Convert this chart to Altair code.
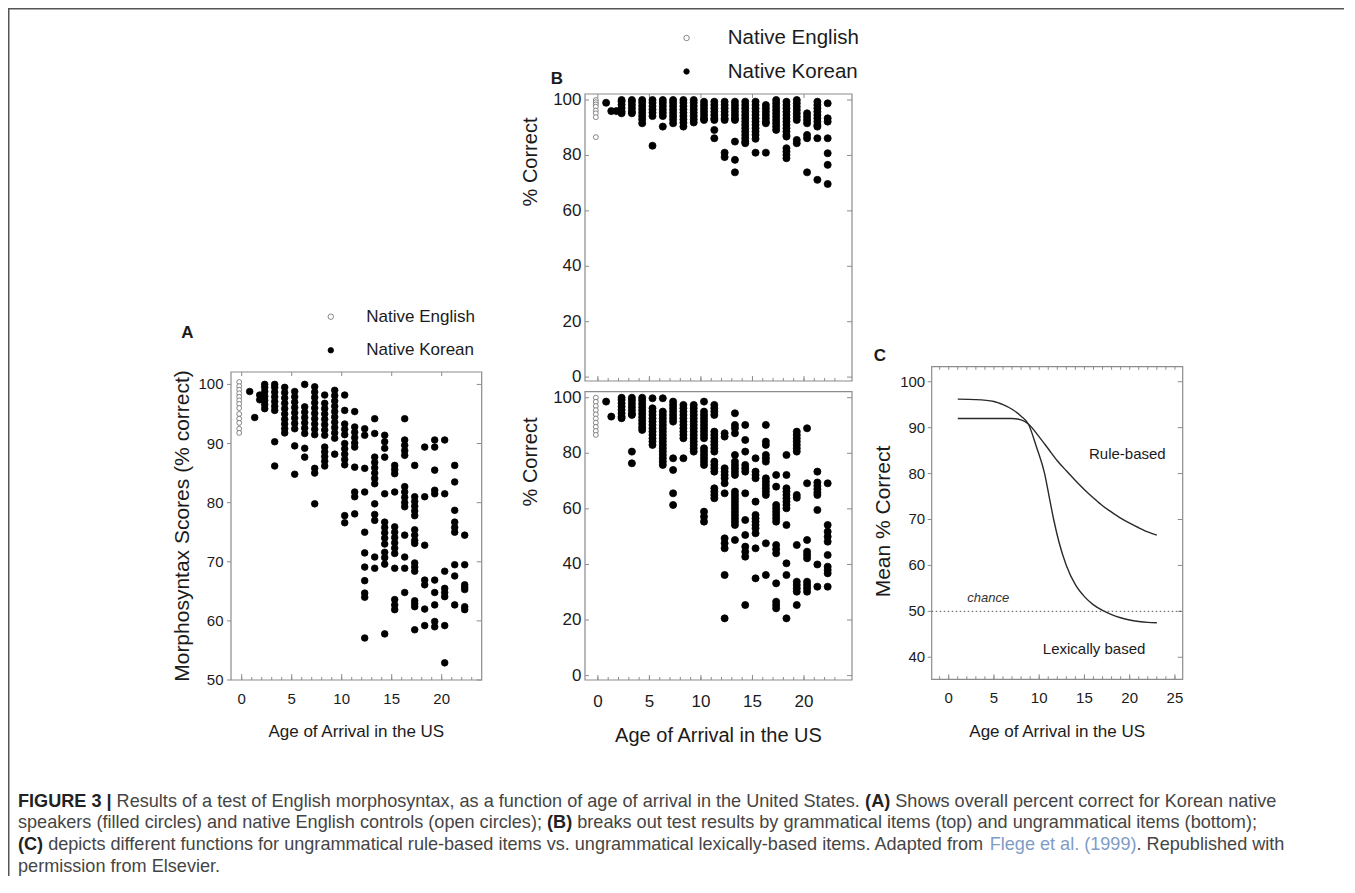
import altair as alt
import pandas as pd

FONT = "Liberation Sans"
INK = "#1b1b1b"
GREY = "#8c8c8c"
W, H, M = 1336, 868, 8
GROUPS = ["Native English", "Native Korean"]


def px(v):
    return v - M


# ---------------- Panel A data ----------------
a_eng_age = [-0.25]
a_eng_score = [[100.4, 99.7, 99.1, 98.5, 97.9, 97.3, 96.7, 96.0, 95.0, 94.2, 93.5, 92.5, 91.8]]
a_kor_age = [0.8, 1.3, 1.8, 2.3, 3.3, 4.3, 5.3, 6.3, 7.3, 8.3, 9.3, 10.3, 11.3, 12.3,
             13.3, 14.3, 15.3, 16.3, 17.3, 18.3, 19.3, 20.3, 21.3, 22.3]
a_kor_score = [
    [98.8],
    [94.4],
    [98.2, 97.4],
    [100.0, 99.5, 98.8, 98.0, 97.3, 96.6, 95.9],
    [100.0, 99.5, 98.7, 97.9, 97.1, 96.3, 95.6, 90.3, 86.2],
    [99.5, 98.6, 97.7, 96.8, 95.9, 95.0, 94.1, 93.3, 92.5, 91.8],
    [98.8, 97.9, 97.0, 96.1, 95.2, 94.3, 93.4, 92.5, 89.6, 84.8],
    [100.0, 96.2, 95.3, 94.4, 93.5, 92.6, 91.7, 89.2, 87.7],
    [99.6, 98.7, 97.8, 96.9, 96.0, 95.1, 94.2, 93.3, 92.4, 91.5, 85.8, 85.0, 79.8],
    [98.2, 96.8, 95.9, 95.0, 94.1, 93.2, 92.3, 91.4, 89.4, 88.6, 87.8, 87.0, 86.2],
    [99.0, 98.1, 97.2, 96.3, 95.4, 94.5, 93.6, 92.7, 91.8, 90.9, 88.2],
    [98.2, 95.6, 93.3, 92.4, 91.5, 90.0, 89.1, 88.2, 87.3, 86.4, 77.8, 76.6],
    [95.4, 92.8, 91.9, 91.0, 90.1, 89.4, 86.0, 81.8, 81.0, 78.1],
    [92.5, 91.4, 85.8, 81.8, 75.0, 71.5, 69.1, 66.8, 64.7, 64.0, 57.1],
    [94.2, 91.7, 87.7, 86.8, 85.9, 85.0, 84.1, 83.2, 79.8, 78.0, 77.0, 70.8, 68.9],
    [91.4, 90.3, 89.2, 87.7, 81.5, 76.7, 75.8, 74.9, 74.0, 73.0, 71.6, 70.7, 69.6, 57.8],
    [86.3, 85.6, 84.9, 81.8, 75.9, 75.0, 74.1, 73.2, 72.3, 71.4, 68.9, 63.6, 62.7, 61.9],
    [94.2, 90.6, 89.7, 88.8, 88.0, 82.7, 81.8, 80.9, 80.0, 79.3, 74.5, 70.8, 68.9, 64.8],
    [86.3, 81.0, 80.2, 79.4, 78.6, 77.8, 75.4, 74.5, 73.6, 73.1, 69.8, 69.1, 68.4, 63.4,
     62.9, 62.4, 58.5],
    [89.4, 81.0, 72.8, 66.9, 66.1, 62.0, 59.2],
    [90.6, 89.4, 85.5, 82.1, 81.5, 66.9, 64.8, 62.7, 59.9, 59.0],
    [90.6, 81.5, 68.4, 65.5, 64.8, 64.1, 59.2, 52.9],
    [86.3, 83.5, 78.7, 76.7, 75.8, 75.0, 69.5, 67.6, 62.7],
    [74.5, 69.5, 66.1, 65.7, 65.3, 62.4, 61.9],
]

# ---------------- Panel B (top: grammatical) ----------------
bt_eng_age = [-0.2]
bt_eng_score = [[100.0, 99.2, 98.4, 97.6, 96.2, 95.2, 93.8, 86.6]]
bt_kor_age = [0.8, 1.3, 1.8, 2.3, 3.3, 4.3, 5.3, 6.3, 7.3, 8.3, 9.3, 10.3, 11.3, 12.3,
              13.3, 14.3, 15.3, 16.3, 17.3, 18.3, 19.3, 20.3, 21.3, 22.3]
bt_kor_score = [
    [99.0],
    [96.0],
    [96.0],
    [100.0, 99.4, 98.3, 97.1, 95.9, 95.2],
    [100.0, 99.4, 98.2, 97.0, 95.8, 95.2],
    [100.0, 99.0, 97.8, 96.6, 95.4, 94.2, 93.0, 91.6],
    [100.0, 99.0, 97.8, 96.6, 95.4, 94.2, 83.5],
    [100.0, 99.0, 97.8, 96.6, 95.4, 94.2, 90.4],
    [100.0, 99.0, 97.8, 96.6, 95.4, 94.2, 93.0, 91.6],
    [100.0, 99.0, 97.8, 96.6, 95.4, 94.2, 93.0, 91.8, 90.4],
    [100.0, 99.0, 97.8, 96.6, 95.4, 94.2, 93.0, 91.9],
    [99.4, 98.2, 97.0, 95.8, 94.6, 93.4, 92.8],
    [99.4, 98.2, 97.0, 95.8, 94.6, 93.4, 92.8, 89.2, 86.2],
    [99.4, 98.2, 97.0, 95.8, 94.6, 93.4, 92.8, 81.0, 79.4],
    [99.4, 98.2, 97.0, 95.8, 94.6, 93.4, 92.8, 85.0, 78.4, 73.9],
    [99.4, 98.2, 97.0, 95.8, 94.6, 93.4, 92.2, 91.0, 89.8, 88.6, 87.4, 86.2, 85.0, 84.4],
    [99.4, 98.2, 97.0, 95.8, 94.6, 93.4, 92.2, 91.0, 89.8, 88.6, 87.4, 86.0, 81.0],
    [98.2, 97.0, 95.8, 94.6, 93.4, 92.2, 91.6, 81.0],
    [100.0, 98.8, 97.6, 96.4, 95.2, 94.0, 92.8, 91.6, 90.4, 89.2],
    [99.4, 98.2, 97.0, 95.8, 94.6, 93.4, 92.2, 91.0, 89.8, 88.6, 87.4, 86.8, 82.6, 81.4,
     80.2, 79.0],
    [100.0, 98.8, 97.6, 96.4, 95.2, 94.0, 92.8, 85.6, 84.4],
    [95.2, 94.0, 92.8, 91.6, 87.4, 86.2, 73.9],
    [99.4, 98.2, 97.0, 95.8, 94.6, 93.4, 92.2, 91.0, 90.4, 86.2, 71.2],
    [98.8, 93.4, 92.2, 86.2, 80.8, 76.6, 69.7],
]

# ---------------- Panel B (bottom: ungrammatical) ----------------
bb_eng_age = [-0.2]
bb_eng_score = [[100.0, 98.5, 97.0, 95.5, 94.0, 92.5, 91.0, 89.5, 88.0, 86.6]]
bb_kor_age = [0.8, 1.3, 2.3, 3.3, 4.3, 5.3, 6.3, 7.3, 8.3, 9.3, 10.3, 11.3, 12.3, 13.3,
              14.3, 15.3, 16.3, 17.3, 18.3, 19.3, 20.3, 21.3, 22.3]
bb_kor_score = [
    [98.6],
    [93.2],
    [100.0, 99.2, 98.0, 96.8, 95.6, 94.4, 93.2, 92.6],
    [100.0, 99.0, 97.8, 96.6, 95.4, 94.2, 93.8, 80.6, 76.4],
    [100.0, 99.0, 97.8, 96.6, 95.4, 94.2, 93.0, 91.8, 90.6, 89.4, 88.4],
    [99.8, 96.2, 95.0, 93.8, 92.6, 91.4, 90.2, 89.0, 87.8, 86.6, 85.4, 84.2, 83.0],
    [99.8, 95.0, 93.8, 92.6, 91.4, 90.2, 89.0, 87.8, 86.6, 85.4, 84.2, 83.0, 81.8, 80.6,
     79.4, 78.2, 77.0, 75.8],
    [98.6, 97.4, 96.2, 95.0, 93.8, 92.6, 91.4, 78.2, 74.0, 65.6, 61.4],
    [97.4, 96.2, 95.0, 93.8, 92.6, 91.4, 90.2, 89.0, 87.8, 86.6, 85.4, 78.2],
    [97.4, 96.2, 95.0, 93.8, 92.6, 91.4, 90.2, 89.0, 87.8, 86.6, 85.4, 84.2, 83.0, 81.8, 80.6],
    [98.6, 95.0, 93.8, 92.6, 91.4, 90.2, 89.0, 87.8, 86.6, 85.4, 81.8, 80.6, 79.4, 78.2,
     77.0, 75.8, 59.0, 57.2, 55.4],
    [97.4, 96.2, 95.0, 93.8, 87.8, 86.6, 85.4, 84.2, 83.0, 81.8, 80.6, 77.0, 75.8, 74.6,
     73.4, 67.4, 66.2, 65.0, 63.8],
    [87.2, 86.0, 74.6, 73.4, 72.2, 71.0, 69.2, 65.6, 49.4, 47.6, 45.8, 36.2, 20.6],
    [94.4, 90.2, 89.0, 87.2, 79.4, 77.0, 75.8, 74.6, 73.4, 72.2, 66.2, 65.0, 63.8, 62.6,
     61.4, 60.2, 59.0, 57.8, 56.6, 55.4, 54.2, 48.8],
    [90.2, 84.8, 80.6, 75.8, 74.6, 73.4, 65.6, 56.0, 50.6, 46.4, 44.6, 42.8, 25.4],
    [78.2, 73.4, 72.2, 71.0, 62.6, 57.8, 56.6, 55.4, 54.2, 53.0, 51.2, 45.8, 35.0],
    [90.2, 84.2, 83.0, 79.4, 78.2, 77.0, 71.0, 69.8, 68.6, 67.4, 66.2, 65.0, 47.6, 36.2],
    [72.2, 68.0, 61.4, 60.2, 59.0, 57.8, 56.6, 55.4, 47.0, 45.5, 44.0, 33.2, 26.6, 25.4, 24.2],
    [79.4, 72.2, 67.4, 66.2, 65.0, 63.8, 62.6, 61.4, 60.2, 54.2, 40.4, 36.2, 20.6],
    [87.8, 86.6, 85.4, 84.2, 83.0, 81.8, 80.6, 65.0, 64.0, 47.0, 33.8, 32.6, 31.4, 30.2, 25.4],
    [89.0, 69.2, 48.8, 44.6, 43.4, 42.2, 33.8, 32.6, 31.4, 30.2],
    [73.4, 69.5, 68.3, 67.1, 65.9, 65.0, 59.6, 40.0, 32.0],
    [69.2, 54.2, 51.8, 50.0, 48.2, 43.4, 39.2, 38.0, 36.8, 32.0],
]

# ---------------- Panel C (fitted functions) ----------------
c_lex_age = [1, 3, 5, 6, 7, 8, 8.8, 9.7, 10.6, 11.1, 11.6, 12.2, 13.0, 14.0, 15.0, 16.0,
             17.0, 18.0, 19.0, 20.0, 21.0, 22.0, 23.0]
c_lex_score = [96.2, 96.1, 95.7, 95.0, 94.0, 92.5, 90.8, 85.8, 80.0, 75.0, 70.0, 65.0, 60.0,
               55.8, 53.2, 51.4, 50.2, 49.3, 48.6, 48.1, 47.8, 47.6, 47.5]
c_rule_age = [1, 3, 5, 7, 8, 8.8, 10, 11, 12, 13, 14, 15, 16, 17, 18, 19, 20, 21, 22, 23]
c_rule_score = [92.0, 92.0, 92.0, 92.0, 91.7, 90.8, 88.0, 85.4, 82.8, 80.6, 78.5, 76.5, 74.7,
                73.0, 71.6, 70.3, 69.2, 68.2, 67.3, 66.6]
c_chance = 50
c_labels = ["Rule-based", "Lexically based"]
c_label_age = [15.5, 10.4]
c_label_score = [84.3, 41.9]

# tick label values
a_xticks = [0, 5, 10, 15, 20]
a_yticks = [50, 60, 70, 80, 90, 100]
b_xticks = [0, 5, 10, 15, 20]
b_yticks = [0, 20, 40, 60, 80, 100]
c_xticks = [0, 5, 10, 15, 20, 25]
c_yticks = [40, 50, 60, 70, 80, 90, 100]


def long_df(ages, cols, group):
    xs = [a for a, col in zip(ages, cols) for _ in col]
    ys = [s for col in cols for s in col]
    return pd.DataFrame({"age": xs, "score": ys, "g": group})


fill_scale = alt.Scale(domain=GROUPS, range=["#ffffff", "#000000"])
stroke_scale = alt.Scale(domain=GROUPS, range=["#6a6a6a", "#000000"])
ONE = pd.DataFrame({"k": [0]})


def ticks(vals, side, length, xs, ys, xdom, ydom, outward=False):
    df = pd.DataFrame({"v": vals})
    sgn = -1 if outward else 1
    if side in ("bottom", "top"):
        edge = ydom[0] if side == "bottom" else ydom[1]
        off = (-length / 2 if side == "bottom" else length / 2) * sgn
        return alt.Chart(df).mark_tick(orient="vertical", size=length, thickness=1,
                                       color=GREY, opacity=1, yOffset=off).encode(
            x=alt.X("v:Q", scale=xs, axis=None),
            y=alt.YDatum(edge, type="quantitative", scale=ys, axis=None))
    edge = xdom[0] if side == "left" else xdom[1]
    off = (length / 2 if side == "left" else -length / 2) * sgn
    return alt.Chart(df).mark_tick(orient="horizontal", size=length, thickness=1,
                                   color=GREY, opacity=1, xOffset=off).encode(
        x=alt.XDatum(edge, type="quantitative", scale=xs, axis=None),
        y=alt.Y("v:Q", scale=ys, axis=None))


def xlabels(vals, xs, ys, ydom, fs, pad):
    return alt.Chart(pd.DataFrame({"v": vals})).mark_text(
        baseline="top", align="center", font=FONT, fontSize=fs, color=INK, dy=pad).encode(
        x=alt.X("v:Q", scale=xs, axis=None),
        y=alt.YDatum(ydom[0], type="quantitative", scale=ys, axis=None),
        text=alt.Text("v:Q", format="d"))


def ylabels(vals, xs, ys, xdom, fs, pad):
    return alt.Chart(pd.DataFrame({"v": vals})).mark_text(
        baseline="middle", align="right", font=FONT, fontSize=fs, color=INK, dx=-pad).encode(
        x=alt.XDatum(xdom[0], type="quantitative", scale=xs, axis=None),
        y=alt.Y("v:Q", scale=ys, axis=None),
        text=alt.Text("v:Q", format="d"))


def frame(xs, ys, xdom, ydom):
    return alt.Chart(ONE).mark_rect(filled=False, color=GREY, strokeWidth=1.2).encode(
        x=alt.XDatum(xdom[0], type="quantitative", scale=xs, axis=None),
        x2=alt.X2Datum(xdom[1]),
        y=alt.YDatum(ydom[0], type="quantitative", scale=ys, axis=None),
        y2=alt.Y2Datum(ydom[1]))


def points(df, size, xs, ys, legend):
    return alt.Chart(df).mark_circle(size=size, opacity=1, strokeWidth=0.8).encode(
        x=alt.X("age:Q", scale=xs, axis=None),
        y=alt.Y("score:Q", scale=ys, axis=None),
        fill=alt.Fill("g:N", scale=fill_scale, legend=legend),
        stroke=alt.Stroke("g:N", scale=stroke_scale, legend=legend),
    )


def legend(x, y, fs, offset, rowpad):
    return alt.Legend(orient="none", legendX=x, legendY=y, title=None, padding=0,
                      labelFont=FONT, labelFontSize=fs, labelColor=INK, labelOffset=offset,
                      rowPadding=rowpad, symbolType="circle", symbolSize=30,
                      symbolStrokeWidth=0.8, labelLimit=400)


def title_text(txt, x, y, fs, angle=0):
    return alt.Chart(ONE).mark_text(text=txt, font=FONT, fontSize=fs, color=INK, angle=angle,
                                    align="center", baseline="middle").encode(
        x=alt.value(px(x)), y=alt.value(px(y)))


# ---------------- Panel A ----------------
a_xdom, a_ydom = [-1.07, 24.0], [50.0, 102.1]
a_xs = alt.Scale(domain=a_xdom, range=[px(231), px(481.7)], nice=False, zero=False)
a_ys = alt.Scale(domain=a_ydom, range=[px(680), px(372)], nice=False, zero=False)
a_leg = legend(px(325) - 2.7, px(316.7) - 8.5, 17, 27, 15.6)
panel_a = alt.layer(
    frame(a_xs, a_ys, a_xdom, a_ydom),
    ticks(list(range(0, 24)), "bottom", 3, a_xs, a_ys, a_xdom, a_ydom),
    ticks(a_xticks, "bottom", 6, a_xs, a_ys, a_xdom, a_ydom),
    ticks(a_xticks, "top", 4, a_xs, a_ys, a_xdom, a_ydom),
    ticks(a_yticks, "right", 5, a_xs, a_ys, a_xdom, a_ydom),
    ticks(a_yticks, "left", 4, a_xs, a_ys, a_xdom, a_ydom, outward=True),
    xlabels(a_xticks, a_xs, a_ys, a_ydom, 15, 12),
    ylabels(a_yticks, a_xs, a_ys, a_xdom, 15, 7.5),
    points(long_df(a_eng_age, a_eng_score, GROUPS[0]), 24, a_xs, a_ys, a_leg),
    points(long_df(a_kor_age, a_kor_score, GROUPS[1]), 44, a_xs, a_ys, a_leg),
)

# ---------------- Panel B ----------------
b_xdom = [-1.25, 24.66]
b_xs = alt.Scale(domain=b_xdom, range=[px(585), px(852)], nice=False, zero=False)
bt_ydom = [-1.4, 102.17]
bt_ys = alt.Scale(domain=bt_ydom, range=[px(381), px(94)], nice=False, zero=False)
bb_ydom = [-1.58, 102.16]
bb_ys = alt.Scale(domain=bb_ydom, range=[px(680), px(391.7)], nice=False, zero=False)
b_leg = legend(px(679) - 2.7, px(38) - 10.25, 20.5, 31, 12.5)

panel_bt = alt.layer(
    frame(b_xs, bt_ys, b_xdom, bt_ydom),
    ticks(list(range(0, 24)), "bottom", 3, b_xs, bt_ys, b_xdom, bt_ydom),
    ticks(b_xticks, "bottom", 5, b_xs, bt_ys, b_xdom, bt_ydom),
    ticks(b_xticks, "top", 4, b_xs, bt_ys, b_xdom, bt_ydom),
    ticks(b_yticks, "right", 5, b_xs, bt_ys, b_xdom, bt_ydom),
    ticks(b_yticks, "left", 4, b_xs, bt_ys, b_xdom, bt_ydom),
    ylabels(b_yticks, b_xs, bt_ys, b_xdom, 17, 3.5),
    points(long_df(bt_eng_age, bt_eng_score, GROUPS[0]), 24, b_xs, bt_ys, b_leg),
    points(long_df(bt_kor_age, bt_kor_score, GROUPS[1]), 50, b_xs, bt_ys, b_leg),
)
panel_bb = alt.layer(
    frame(b_xs, bb_ys, b_xdom, bb_ydom),
    ticks(list(range(0, 24)), "bottom", 3, b_xs, bb_ys, b_xdom, bb_ydom),
    ticks(b_xticks, "bottom", 5, b_xs, bb_ys, b_xdom, bb_ydom),
    ticks(b_yticks, "right", 5, b_xs, bb_ys, b_xdom, bb_ydom),
    ticks(b_yticks, "left", 4, b_xs, bb_ys, b_xdom, bb_ydom),
    xlabels(b_xticks, b_xs, bb_ys, bb_ydom, 17, 14),
    ylabels(b_yticks, b_xs, bb_ys, b_xdom, 17, 3.5),
    points(long_df(bb_eng_age, bb_eng_score, GROUPS[0]), 24, b_xs, bb_ys, None),
    points(long_df(bb_kor_age, bb_kor_score, GROUPS[1]), 50, b_xs, bb_ys, None),
)

# ---------------- Panel C ----------------
c_xdom, c_ydom = [-1.88, 25.86], [35.2, 103.27]
c_xs = alt.Scale(domain=c_xdom, range=[px(931.7), px(1182.7)], nice=False, zero=False)
c_ys = alt.Scale(domain=c_ydom, range=[px(679.3), px(366.7)], nice=False, zero=False)
curves = pd.concat([
    pd.DataFrame({"age": c_lex_age, "score": c_lex_score, "curve": "Lexically based"}),
    pd.DataFrame({"age": c_rule_age, "score": c_rule_score, "curve": "Rule-based"}),
])
c_lab = pd.DataFrame({"age": c_label_age, "score": c_label_score, "label": c_labels})
panel_c = alt.layer(
    frame(c_xs, c_ys, c_xdom, c_ydom),
    ticks(list(range(-1, 26)), "bottom", 3, c_xs, c_ys, c_xdom, c_ydom),
    ticks(c_xticks, "bottom", 5, c_xs, c_ys, c_xdom, c_ydom),
    ticks(list(range(-1, 26)), "top", 3, c_xs, c_ys, c_xdom, c_ydom),
    ticks(c_yticks, "right", 5, c_xs, c_ys, c_xdom, c_ydom),
    ticks(c_yticks, "left", 4, c_xs, c_ys, c_xdom, c_ydom, outward=True),
    xlabels(c_xticks, c_xs, c_ys, c_ydom, 15, 12),
    ylabels(c_yticks, c_xs, c_ys, c_xdom, 15, 6.5),
    alt.Chart(ONE).mark_rule(color="#555555", strokeWidth=1, strokeDash=[1.5, 2.5]).encode(
        x=alt.XDatum(c_xdom[0], type="quantitative", scale=c_xs, axis=None),
        x2=alt.X2Datum(c_xdom[1]),
        y=alt.YDatum(c_chance, type="quantitative", scale=c_ys, axis=None)),
    alt.Chart(curves).mark_line(color="#2a2a2a", strokeWidth=1.4, interpolate="monotone").encode(
        x=alt.X("age:Q", scale=c_xs, axis=None),
        y=alt.Y("score:Q", scale=c_ys, axis=None),
        detail="curve:N"),
    alt.Chart(c_lab).mark_text(align="left", baseline="middle", font=FONT, fontSize=15,
                               color=INK).encode(
        x=alt.X("age:Q", scale=c_xs, axis=None),
        y=alt.Y("score:Q", scale=c_ys, axis=None),
        text="label:N"),
    alt.Chart(pd.DataFrame({"age": [2.06], "score": [52.8], "label": ["chance"]})).mark_text(
        align="left", baseline="middle", font=FONT, fontSize=13, fontStyle="italic",
        color="#333333").encode(
        x=alt.X("age:Q", scale=c_xs, axis=None),
        y=alt.Y("score:Q", scale=c_ys, axis=None),
        text="label:N"),
)

# ---------------- caption (text layout) ----------------
_REG = dict(zip(" !\"#$%&'()*+,-./:;?", [278, 278, 355, 556, 556, 889, 667, 191, 333, 333, 389,
                                          584, 278, 333, 278, 278, 278, 278, 556]))
_REG.update({d: 556 for d in "0123456789"})
_REG.update(dict(zip("ABCDEFGHIJKLMNOPQRSTUVWXYZ",
                     [667, 667, 722, 722, 667, 611, 778, 722, 278, 500, 667, 556, 833, 722, 778,
                      667, 778, 722, 667, 611, 722, 667, 944, 667, 667, 611])))
_REG.update(dict(zip("abcdefghijklmnopqrstuvwxyz",
                     [556, 556, 500, 556, 556, 278, 556, 556, 222, 222, 500, 222, 833, 556, 556,
                      556, 556, 333, 500, 278, 556, 500, 722, 500, 500, 500])))
_REG["|"] = 260
_BOLD = dict(_REG)
_BOLD.update({"A": 722, "B": 722, "C": 722, "|": 280})

CAP_FS = 18.1
cap_lines = [
    [("FIGURE 3 |", "b"),
     (" Results of a test of English morphosyntax, as a function of age of arrival in the "
      "United States. ", "n"), ("(A)", "b"),
     (" Shows overall percent correct for Korean native", "n")],
    [("speakers (filled circles) and native English controls (open circles); ", "n"),
     ("(B)", "b"),
     (" breaks out test results by grammatical items (top) and ungrammatical items (bottom);",
      "n")],
    [("(C)", "b"),
     (" depicts different functions for ungrammatical rule-based items vs. ungrammatical "
      "lexically-based items. Adapted from ", "n"), ("Flege et al. (1999)", "l"),
     (". Republished with", "n")],
    [("permission from Elsevier.", "n")],
]
cap_y = [801.7, 823.3, 845.0, 866.7]
cap_left = 18


def tw(s, style):
    table = _BOLD if style == "b" else _REG
    return sum(table.get(c, 556) for c in s) * CAP_FS / 1000.0


rows = []
for line, yy in zip(cap_lines, cap_y):
    x = cap_left
    for seg, style in line:
        lead = len(seg) - len(seg.lstrip(" "))
        rows.append({"t": seg.strip(" "), "x": px(x + tw(" " * lead, style)), "y": px(yy),
                     "s": style})
        x += tw(seg, style)
cap_df = pd.DataFrame(rows)


def cap_layer(style, color, weight):
    return alt.Chart(cap_df).transform_filter(alt.datum.s == style).mark_text(
        align="left", baseline="middle", font=FONT, fontSize=CAP_FS, color=color,
        fontWeight=weight).encode(
        x=alt.X("x:Q", scale=None, axis=None),
        y=alt.Y("y:Q", scale=None, axis=None),
        text="t:N")


def label(txt, x, y):
    return alt.Chart(ONE).mark_text(text=txt, font=FONT, fontSize=17, fontWeight="bold",
                                    color=INK, align="center", baseline="middle").encode(
        x=alt.value(px(x)), y=alt.value(px(y)))


decor = alt.layer(
    alt.Chart(ONE).mark_rule(color="#555555", strokeWidth=1.5).encode(
        x=alt.value(0.75), y=alt.value(0), y2=alt.value(H)),
    alt.Chart(ONE).mark_rule(color="#555555", strokeWidth=1.5).encode(
        x=alt.value(0), x2=alt.value(W), y=alt.value(0.75)),
    label("A", 187.5, 332.5),
    label("B", 557, 79),
    label("C", 880, 356),
    # axis titles
    title_text("Morphosyntax Scores (% correct)", 182.5, 526, 21, 270),
    title_text("Age of Arrival in the US", 356.3, 731.7, 17),
    title_text("% Correct", 531, 162, 20, 270),
    title_text("% Correct", 531, 462, 20, 270),
    title_text("Age of Arrival in the US", 718.5, 736, 20),
    title_text("Mean % Correct", 884, 521.5, 21, 270),
    title_text("Age of Arrival in the US", 1057.2, 731.7, 17),
    cap_layer("n", "#454545", "normal"),
    cap_layer("b", "#222222", "bold"),
    cap_layer("l", "#7f9cc6", "normal"),
)

chart = alt.layer(panel_a, panel_bt, panel_bb, panel_c, decor).resolve_scale(
    x="independent", y="independent", fill="independent", stroke="independent"
).resolve_legend(
    fill="independent", stroke="independent"
).properties(
    width=W, height=H, padding=0, autosize=alt.AutoSizeParams(type="none")
).configure_view(strokeWidth=0)

chart.save("out.html", embed_options={"renderer": "svg", "actions": False})
